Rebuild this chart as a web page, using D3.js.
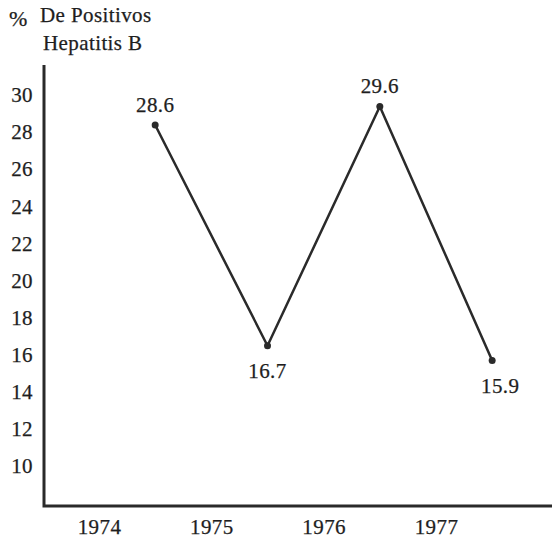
<!DOCTYPE html>
<html>
<head>
<meta charset="utf-8">
<script src="https://cdn.jsdelivr.net/npm/d3@7"></script>
<style>
  html, body { margin: 0; padding: 0; background: #fff; }
  svg text { font-family: "Liberation Serif", "DejaVu Serif", serif; fill: #1e1e1e; stroke: #1e1e1e; stroke-width: 0.25px; letter-spacing: 0.4px; }
</style>
</head>
<body>
<svg id="chart" width="552" height="542"></svg>
<script>
// ---- data ----
const years = [1974, 1975, 1976, 1977];
const values = [28.6, 16.7, 29.6, 15.9];
const yTicks = [10, 12, 14, 16, 18, 20, 22, 24, 26, 28, 30];
const titleLines = ["De Positivos", "Hepatitis B"];

// ---- drawing ----
const svg = d3.select("#chart");
const axisX = 44, axisBottom = 506, axisTop = 65;

const x = d3.scaleLinear().domain([1974, 1977]).range([99, 436]);
const y = d3.scaleLinear().domain([10, 30]).range([470, 99]);

// title
svg.append("text").attr("x", 9).attr("y", 26).style("font-size", "22px").text("%");
svg.append("text").attr("x", 40).attr("y", 22).style("font-size", "21px").text(titleLines[0]);
svg.append("text").attr("x", 43).attr("y", 50).style("font-size", "21px").text(titleLines[1]);

// y axis (labels only, no tick marks)
const yAxis = d3.axisLeft(y).tickValues(yTicks).tickSize(0).tickPadding(0).tickFormat(d3.format("d"));
const gy = svg.append("g").attr("transform", `translate(33,-4)`).call(yAxis);
gy.select(".domain").remove();
gy.selectAll("text").style("font-size", "21px");

// x axis labels
const xAxis = d3.axisBottom(x).tickValues(years).tickSize(0).tickPadding(0).tickFormat(d3.format("d"));
const gx = svg.append("g").attr("transform", `translate(0,519)`).call(xAxis);
gx.select(".domain").remove();
gx.selectAll("text").style("font-size", "21px");

// axis lines
svg.append("path")
  .attr("d", `M${axisX},${axisTop} L${axisX},${axisBottom} L552,${axisBottom}`)
  .attr("fill", "none").attr("stroke", "#2a2a2a").attr("stroke-width", 3);

// data points at mid-year
const pts = years.map((yr, i) => ({ xv: yr + 0.5, v: values[i] }));
const line = d3.line().x(d => x(d.xv)).y(d => y(d.v));
svg.append("path").datum(pts).attr("d", line)
  .attr("fill", "none").attr("stroke", "#2a2a2a").attr("stroke-width", 2.5);

svg.selectAll("circle.pt").data(pts).join("circle")
  .attr("class", "pt")
  .attr("cx", d => x(d.xv)).attr("cy", d => y(d.v)).attr("r", 3.5)
  .attr("fill", "#2a2a2a");

svg.selectAll("text.val").data(pts).join("text")
  .attr("class", "val")
  .attr("text-anchor", "middle")
  .style("font-size", "21px")
  .attr("x", (d, i) => x(d.xv) + (i === pts.length - 1 ? 8 : 0))
  .attr("y", (d, i) => i % 2 === 0 ? y(d.v) - 13 : y(d.v) + 32)
  .text(d => d3.format(".1f")(d.v));
</script>
</body>
</html>
